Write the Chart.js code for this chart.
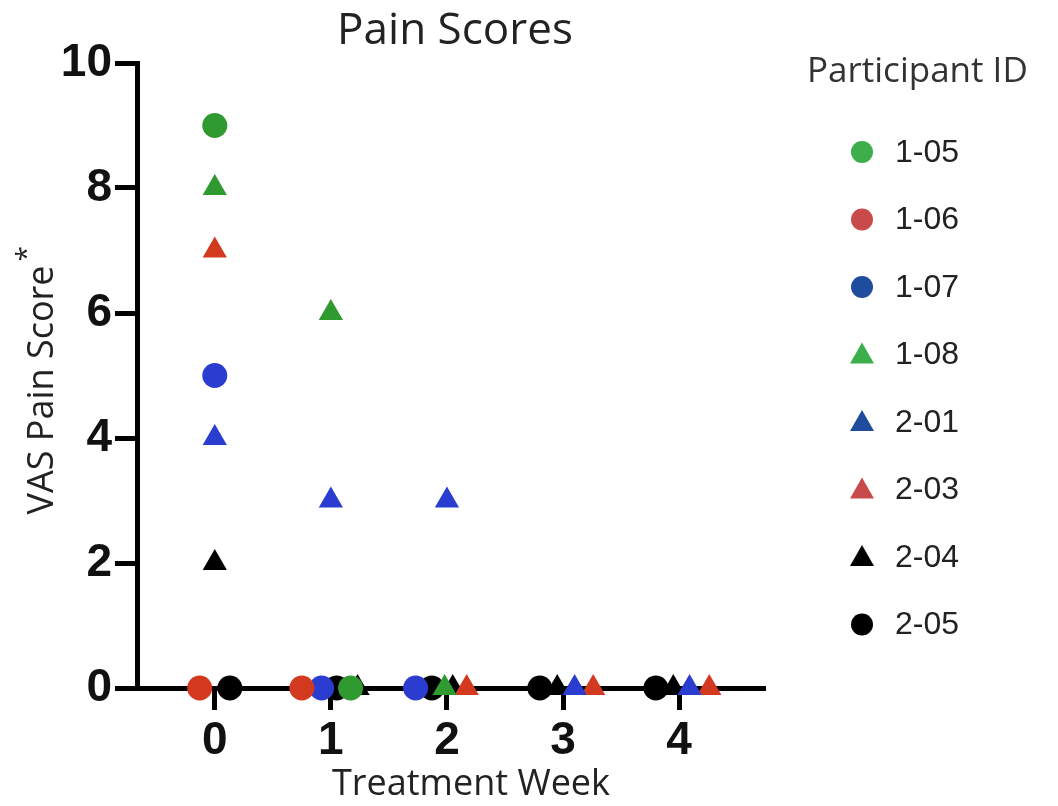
<!DOCTYPE html>
<html>
<head>
<meta charset="utf-8">
<script src="https://cdn.jsdelivr.net/npm/chart.js@4"></script>
<style>
  html, body { margin: 0; padding: 0; background: #fff; }
  #wrap { width: 1058px; height: 806px; position: relative; }
</style>
</head>
<body>
<div id="wrap"><canvas id="painChart" width="1058" height="806"></canvas></div>
<script>
// participants, in legend order
const participants = ['1-05', '1-06', '1-07', '1-08', '2-01', '2-03', '2-04', '2-05'];
const shapes = ['circle', 'circle', 'circle', 'triangle', 'triangle', 'triangle', 'triangle', 'circle'];
const plotColors = ['#2f9a2f', '#d2391f', '#2a3dd0', '#2f9a2f', '#2a3dd0', '#d2391f', '#000000', '#000000'];
const legendColors = ['#3cae4a', '#c94a4a', '#1f4c9c', '#3cae4a', '#1f4c9c', '#c94a4a', '#000000', '#000000'];

// treatment week (spread a little where points tie at 0) and VAS score
const week105 = [0, 1.17];
const score105 = [9, 0];
const week106 = [-0.13, 0.75];
const score106 = [0, 0];
const week107 = [0, 0.92, 1.73];
const score107 = [5, 0, 0];
const week108 = [0, 1, 1.98];
const score108 = [8, 6, 0];
const week201 = [0, 1, 2, 3.1, 4.09];
const score201 = [4, 3, 3, 0, 0];
const week203 = [0, 2.17, 3.26, 4.26];
const score203 = [7, 0, 0, 0];
const week204 = [0, 1.23, 2.05, 2.95, 3.95];
const score204 = [2, 0, 0, 0, 0];
const week205 = [0.13, 1.05, 1.87, 2.8, 3.8];
const score205 = [0, 0, 0, 0, 0];

const weekTicks = [0, 1, 2, 3, 4];

const allWeeks = [week105, week106, week107, week108, week201, week203, week204, week205];
const allScores = [score105, score106, score107, score108, score201, score203, score204, score205];

function pairs(xs, ys) {
    return xs.map((x, i) => ({ x: x, y: ys[i] }));
}

const datasets = participants.map((p, i) => ({
    label: p,
    data: pairs(allWeeks[i], allScores[i]),
    pointStyle: shapes[i],
    pointRadius: shapes[i] === 'triangle' ? 14 : 12.5,
    backgroundColor: plotColors[i],
    borderColor: plotColors[i],
    borderWidth: 0,
    clip: false
}));

// titles and the legend are drawn by hand to sit where the original has them
const textPlugin = {
    id: 'textPlugin',
    afterDraw(chart) {
        const ctx = chart.ctx;
        ctx.save();
        ctx.fillStyle = '#222';
        ctx.textAlign = 'center';
        ctx.textBaseline = 'middle';
        ctx.font = '44px "Open Sans"';
        ctx.fillText('Pain Scores', 455, 31);

        ctx.font = '36px "Open Sans"';
        ctx.fillText('Treatment Week', 471, 785);

        ctx.save();
        ctx.translate(43, 390);
        ctx.rotate(-Math.PI / 2);
        ctx.textAlign = 'center';
        ctx.fillText('VAS Pain Score', 0, 0);
        const w = ctx.measureText('VAS Pain Score').width;
        ctx.font = '28px "Open Sans"';
        ctx.textAlign = 'left';
        ctx.fillText('*', w / 2 + 4, -15);
        ctx.restore();

        // legend
        ctx.textAlign = 'left';
        ctx.font = '35px "Open Sans"';
        ctx.fillStyle = '#333';
        ctx.fillText('Participant ID', 807, 72);
        ctx.font = '32px "Liberation Sans"';
        participants.forEach((p, i) => {
            const y = 152 + i * 67.5;
            ctx.fillStyle = legendColors[i];
            ctx.beginPath();
            if (shapes[i] === 'circle') {
                ctx.arc(862, y, 11, 0, Math.PI * 2);
            } else {
                ctx.moveTo(862, y - 12);
                ctx.lineTo(874, y + 9);
                ctx.lineTo(850, y + 9);
                ctx.closePath();
            }
            ctx.fill();
            ctx.fillStyle = '#222';
            ctx.fillText(p, 895, y + 1);
        });
        ctx.restore();
    }
};

new Chart(document.getElementById('painChart'), {
    type: 'scatter',
    data: { datasets: datasets },
    options: {
        responsive: false,
        animation: false,
        layout: { padding: { top: 63, right: 293, left: 0, bottom: 0 } },
        plugins: {
            legend: { display: false },
            title: { display: false },
            tooltip: { enabled: false }
        },
        scales: {
            x: {
                type: 'linear',
                min: -0.67,
                max: 4.74,
                afterBuildTicks: (scale) => {
                    scale.ticks = weekTicks.map(v => ({ value: v }));
                },
                afterFit: (scale) => { scale.height = 118; },
                grid: {
                    drawOnChartArea: false,
                    drawTicks: true,
                    tickLength: 22,
                    tickWidth: 5,
                    color: '#000'
                },
                border: { display: true, width: 5, color: '#000' },
                ticks: {
                    color: '#111',
                    padding: 4,
                    font: { family: '"Liberation Sans"', size: 46, weight: 'bold' }
                }
            },
            y: {
                min: 0,
                max: 10,
                afterFit: (scale) => { scale.width = 137; },
                grid: {
                    drawOnChartArea: false,
                    drawTicks: true,
                    tickLength: 22,
                    tickWidth: 5,
                    color: '#000'
                },
                border: { display: true, width: 5, color: '#000' },
                ticks: {
                    stepSize: 2,
                    color: '#111',
                    padding: 3,
                    font: { family: '"Liberation Sans"', size: 46, weight: 'bold' }
                }
            }
        }
    },
    plugins: [textPlugin]
});
</script>
</body>
</html>
